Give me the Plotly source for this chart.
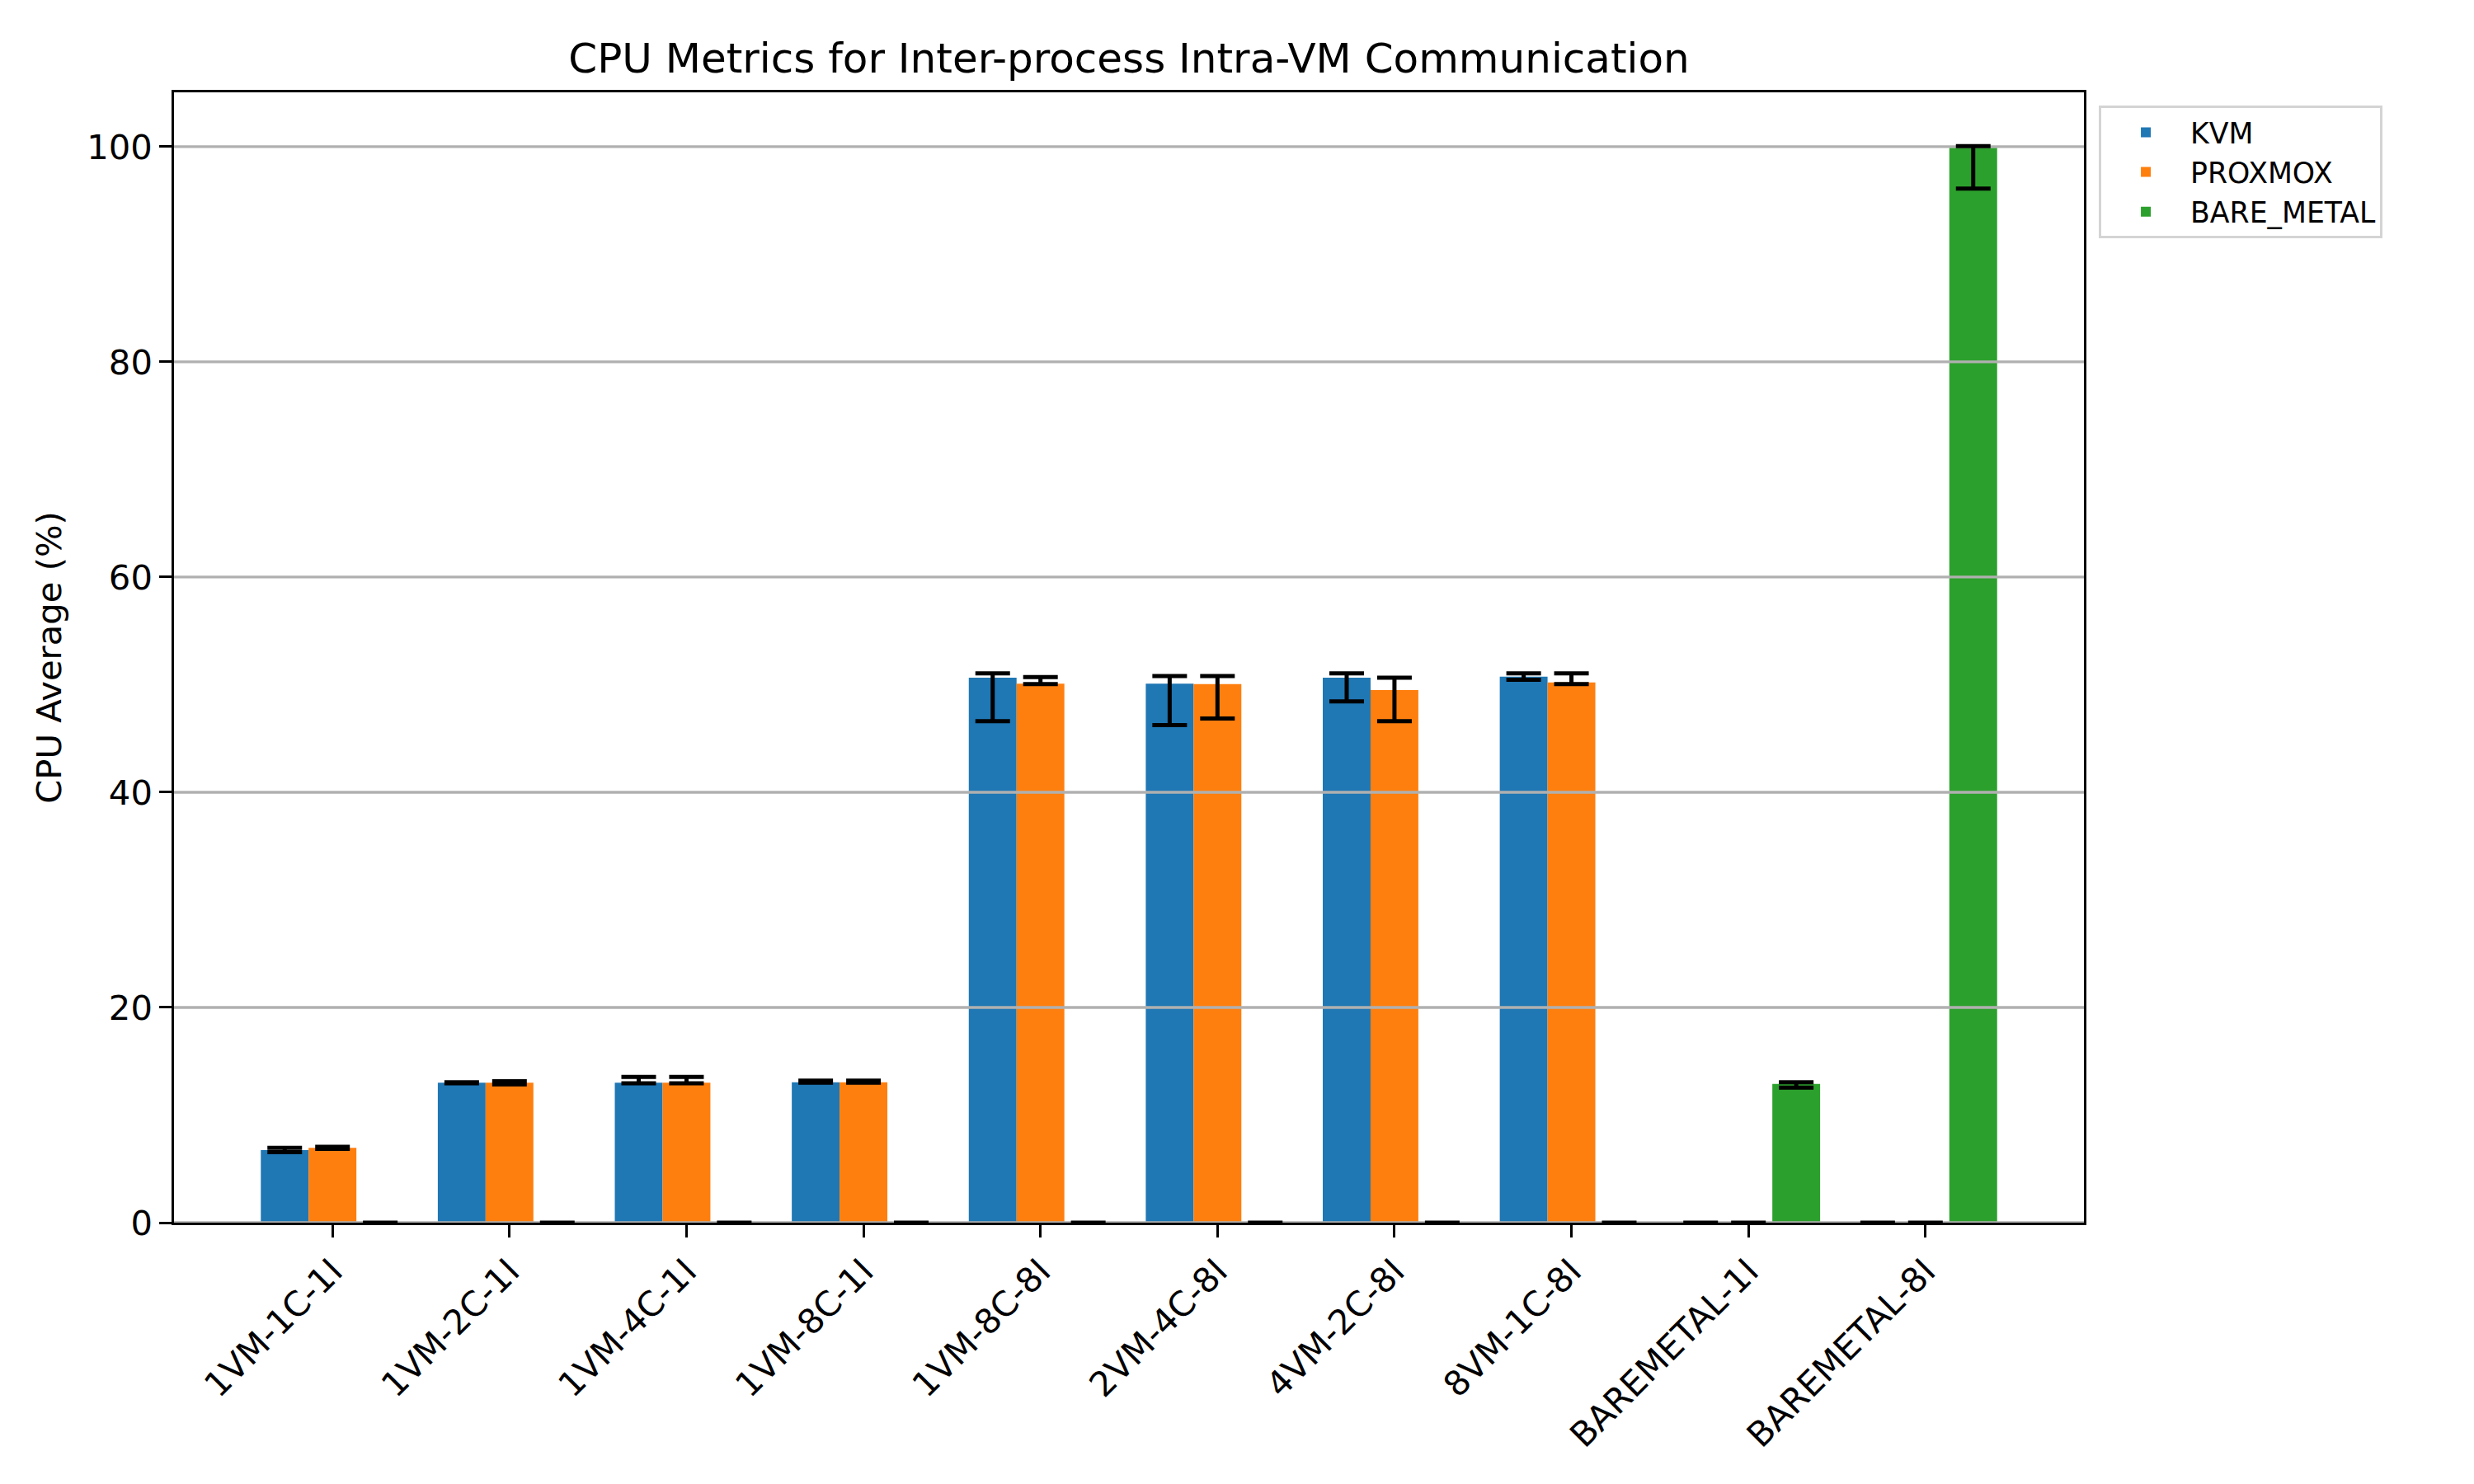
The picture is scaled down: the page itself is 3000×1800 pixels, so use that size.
import plotly.graph_objects as go

categories = ["1VM-1C-1I", "1VM-2C-1I", "1VM-4C-1I", "1VM-8C-1I", "1VM-8C-8I",
              "2VM-4C-8I", "4VM-2C-8I", "8VM-1C-8I", "BAREMETAL-1I", "BAREMETAL-8I"]

kvm_mean = [6.75, 13.0, 13.0, 13.05, 50.65, 50.1, 50.65, 50.75, 0, 0]
kvm_min = [6.55, 12.95, 12.95, 13.0, 46.6, 46.25, 48.45, 50.45, 0, 0]
kvm_max = [6.95, 13.05, 13.55, 13.2, 51.05, 50.8, 51.05, 51.05, 0, 0]

prox_mean = [6.95, 13.0, 13.0, 13.05, 50.1, 50.05, 49.5, 50.2, 0, 0]
prox_min = [6.85, 12.85, 12.95, 13.0, 50.05, 46.85, 46.6, 50.05, 0, 0]
prox_max = [7.05, 13.15, 13.55, 13.2, 50.7, 50.8, 50.65, 51.05, 0, 0]

bare_mean = [0, 0, 0, 0, 0, 0, 0, 0, 12.9, 99.9]
bare_min = [0, 0, 0, 0, 0, 0, 0, 0, 12.55, 96.1]
bare_max = [0, 0, 0, 0, 0, 0, 0, 0, 13.05, 100.05]

y_ticks = [0, 20, 40, 60, 80, 100]

series = [
    ("KVM", kvm_mean, kvm_min, kvm_max, "#1f77b4", -1),
    ("PROXMOX", prox_mean, prox_min, prox_max, "#ff7f0e", 0),
    ("BARE_METAL", bare_mean, bare_min, bare_max, "#2ca02c", 1),
]

W = 0.27
idx = list(range(len(categories)))
span = len(categories) - 1 + 3 * W
x_lo = -1.5 * W - 0.05 * span
x_hi = len(categories) - 1 + 1.5 * W + 0.05 * span
y_top = max(bare_max + kvm_max + prox_max) * 1.05

# plot-area edges in page pixels (page body adds 8 px offset)
L, R, T, B = 203, 2519, 104, 1475

fig = go.Figure()

for name, mean, mn, mx, color, off in series:
    fig.add_trace(go.Bar(
        x=[i + off * W for i in idx], y=mean, width=W, name=name,
        marker=dict(color=color, line=dict(width=0)),
    ))

# grid lines above bars (matplotlib draws the grid over patches, below error bars)
gx, gy = [], []
for t in y_ticks:
    gx += [x_lo, x_hi, None]
    gy += [t, t, None]
fig.add_trace(go.Scatter(x=gx, y=gy, mode="lines", line=dict(color="#b0b0b0", width=3.3),
                         showlegend=False, hoverinfo="skip"))

for name, mean, mn, mx, color, off in series:
    fig.add_trace(go.Scatter(
        x=[i + off * W for i in idx], y=mean, mode="markers",
        marker=dict(size=1, opacity=0), showlegend=False, hoverinfo="skip",
        error_y=dict(type="data", symmetric=False,
                     array=[b - a for a, b in zip(mean, mx)],
                     arrayminus=[a - b for a, b in zip(mean, mn)],
                     color="black", thickness=5, width=21),
    ))

fig.update_layout(
    width=3000, height=1800,
    paper_bgcolor="white", plot_bgcolor="white",
    barmode="overlay",
    margin=dict(l=L, r=3000 - R, t=T, b=1800 - B),
    font=dict(family="DejaVu Sans", color="black", size=41.7),
    title=dict(text="CPU Metrics for Inter-process Intra-VM Communication",
               x=(L + R) / 2 / 3000, xanchor="center", y=1 - 62 / 1800, yanchor="middle",
               font=dict(size=50, family="DejaVu Sans", color="black")),
    legend=dict(x=1.0078, y=0.988, xanchor="left", yanchor="top",
                bgcolor="white", bordercolor="#d4d4d4", borderwidth=3,
                font=dict(size=34.7, family="DejaVu Sans"),
                itemwidth=98),
    showlegend=True,
)

fig.update_xaxes(
    range=[x_lo, x_hi], tickmode="array", tickvals=idx, ticktext=categories,
    tickangle=-45, ticks="outside", ticklen=14.6, tickwidth=3.3, tickcolor="black",
    showline=True, linecolor="black", linewidth=3.3, mirror=True,
    showgrid=False, zeroline=False, tickfont=dict(size=41.7),
)
fig.update_yaxes(
    range=[0, y_top], tickmode="array", tickvals=y_ticks,
    ticks="outside", ticklen=14.6, tickwidth=3.3, tickcolor="black",
    showline=True, linecolor="black", linewidth=3.3, mirror=True,
    showgrid=False, zeroline=False, tickfont=dict(size=41.7),
    title=dict(text="CPU Average (%)", font=dict(size=41.7), standoff=18),
)

fig.write_html("out.html")
